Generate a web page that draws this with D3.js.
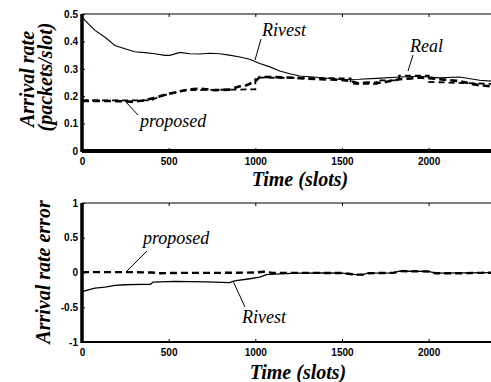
<!DOCTYPE html>
<html>
<head>
<script src="https://d3js.org/d3.v7.min.js"></script>
<style>
  body { margin: 0; background: #fff; }
</style>
</head>
<body>
<svg width="491" height="382"></svg>
<script>
// top panel: arrival rate estimates
var rivestT = [0, 20, 75, 133, 190, 248, 305, 363, 420, 478, 507, 565, 622, 680, 738, 795, 850, 911, 968, 1026, 1084, 1141, 1199, 1256, 1372, 1487, 1600, 1700, 1833, 1948, 2063, 2179, 2294, 2360];
var rivestV = [0.49, 0.475, 0.44, 0.415, 0.385, 0.373, 0.362, 0.359, 0.355, 0.349, 0.349, 0.36, 0.355, 0.354, 0.357, 0.355, 0.35, 0.343, 0.335, 0.319, 0.307, 0.292, 0.282, 0.274, 0.268, 0.261, 0.262, 0.265, 0.27, 0.273, 0.267, 0.27, 0.258, 0.255];

var propT = [0, 100, 200, 300, 363, 450, 507, 565, 622, 680, 766, 850, 911, 950, 1000, 1026, 1100, 1200, 1256, 1372, 1487, 1550, 1600, 1650, 1700, 1750, 1833, 1900, 1948, 2000, 2063, 2179, 2250, 2294, 2360];
var propV = [0.183, 0.183, 0.182, 0.18, 0.185, 0.2, 0.21, 0.218, 0.225, 0.228, 0.222, 0.224, 0.236, 0.24, 0.255, 0.27, 0.27, 0.268, 0.266, 0.262, 0.26, 0.255, 0.246, 0.25, 0.248, 0.252, 0.262, 0.265, 0.268, 0.266, 0.262, 0.255, 0.245, 0.24, 0.236];

var realT = [0, 400, 450, 600, 1000, 1000, 1550, 1550, 1700, 1700, 1830, 1830, 2000, 2000, 2360];
var realV = [0.185, 0.185, 0.2, 0.222, 0.225, 0.268, 0.265, 0.245, 0.245, 0.258, 0.258, 0.275, 0.275, 0.252, 0.245];

// bottom panel: estimation error
var rivErrT = [0, 20, 75, 133, 190, 248, 340, 395, 410, 535, 720, 850, 880, 968, 1026, 1065, 1141, 1250, 1400, 1500, 1580, 1620, 1650, 1800, 1830, 2000, 2040, 2360];
var rivErrV = [-0.28, -0.26, -0.224, -0.21, -0.186, -0.176, -0.171, -0.17, -0.138, -0.129, -0.135, -0.145, -0.12, -0.09, -0.067, -0.03, -0.019, -0.01, -0.005, -0.008, -0.03, -0.03, -0.01, -0.005, 0.02, 0.015, -0.01, -0.003];

var propErrT = [0, 300, 400, 450, 600, 800, 1000, 1050, 1100, 1300, 1500, 1580, 1620, 1650, 1800, 1830, 1900, 2000, 2040, 2200, 2300, 2360];
var propErrV = [0.005, 0.005, 0.0, -0.01, -0.005, -0.005, 0.0, 0.01, -0.005, -0.005, -0.008, -0.03, -0.03, -0.01, -0.005, 0.02, 0.018, 0.015, -0.01, -0.01, -0.005, -0.003];

var xTicks = [0, 500, 1000, 1500, 2000];
var yTicksTop = [0, 0.1, 0.2, 0.3, 0.4, 0.5];
var yTicksBot = [-1, -0.5, 0, 0.5, 1];

var serif = "'Liberation Serif', 'Times New Roman', Times, serif";
var sans = "'Liberation Sans', Arial, Helvetica, sans-serif";

var svg = d3.select("svg");

var x = d3.scaleLinear().domain([0, 2360]).range([82, 491]);
var yTop = d3.scaleLinear().domain([0, 0.5]).range([151, 14]);
var yBot = d3.scaleLinear().domain([-1, 1]).range([342, 203]);

function zip(t, v) { return t.map(function(d, i) { return [d, v[i]]; }); }

function panel(y, yTicks, bottomW) {
    var g = svg.append("g");
    g.append("line").attr("x1", x(0)).attr("x2", 495).attr("y1", y.range()[1]).attr("y2", y.range()[1])
     .attr("stroke", "#000").attr("stroke-width", 1);

    var xa = g.append("g").attr("transform", "translate(0," + y.range()[0] + ")")
        .call(d3.axisBottom(x).tickValues(xTicks).tickSize(-3).tickPadding(7).tickFormat(d3.format("d")));
    xa.select(".domain").remove();
    var xt = g.append("g").attr("transform", "translate(0," + y.range()[1] + ")")
        .call(d3.axisTop(x).tickValues(xTicks).tickSize(-3).tickFormat(""));
    xt.select(".domain").remove();

    var ya = g.append("g").attr("transform", "translate(" + x(0) + ",0)")
        .call(d3.axisLeft(y).tickValues(yTicks).tickSize(-3).tickPadding(4).tickFormat(function(d) { return String(d); }));
    ya.select(".domain").remove();

    g.selectAll(".tick text").style("font-family", sans).style("font-weight", "bold").style("font-size", "10px");

    g.append("line").attr("x1", x(0)).attr("x2", 495).attr("y1", y.range()[0]).attr("y2", y.range()[0])
     .attr("stroke", "#000").attr("stroke-width", bottomW);
    g.append("line").attr("x1", x(0)).attr("x2", x(0)).attr("y1", y.range()[1]).attr("y2", y.range()[0] + 1)
     .attr("stroke", "#000").attr("stroke-width", 3.5);
    return g;
}

var gTop = panel(yTop, yTicksTop, 4);
var gBot = panel(yBot, yTicksBot, 2);

var lineTop = d3.line().x(function(d) { return x(d[0]); }).y(function(d) { return yTop(d[1]); });
var lineBot = d3.line().x(function(d) { return x(d[0]); }).y(function(d) { return yBot(d[1]); });

gTop.append("path").attr("d", lineTop(zip(realT, realV)))
    .attr("fill", "none").attr("stroke", "#000").attr("stroke-width", 1.8).attr("stroke-dasharray", "6,4");
gTop.append("path").attr("d", lineTop(zip(propT, propV)))
    .attr("fill", "none").attr("stroke", "#000").attr("stroke-width", 2.6).attr("stroke-dasharray", "7,4");
gTop.append("path").attr("d", lineTop(zip(rivestT, rivestV)))
    .attr("fill", "none").attr("stroke", "#000").attr("stroke-width", 1.1);

gBot.append("path").attr("d", lineBot(zip(rivErrT, rivErrV)))
    .attr("fill", "none").attr("stroke", "#000").attr("stroke-width", 1.3);
gBot.append("path").attr("d", lineBot(zip(propErrT, propErrV)))
    .attr("fill", "none").attr("stroke", "#000").attr("stroke-width", 2.4).attr("stroke-dasharray", "7,4");

svg.selectAll(".tick line").attr("stroke-width", 1);

// axis titles
function title(txt, tr) {
    svg.append("text").attr("transform", tr).attr("text-anchor", "middle")
       .style("font-family", serif).style("font-weight", "bold").style("font-style", "italic").style("font-size", "20px")
       .text(txt);
}
title("Time (slots)", "translate(300,186)");
title("Time (slots)", "translate(298,379)");
title("Arrival rate", "translate(34,79) rotate(-90)");
title("(packets/slot)", "translate(52,77) rotate(-90)");
title("Arrival rate error", "translate(50,272) rotate(-90)");

// annotations
function note(txt, tx, ty, x1, y1, x2, y2) {
    svg.append("text").attr("x", tx).attr("y", ty)
       .style("font-family", serif).style("font-style", "italic").style("font-size", "18px")
       .text(txt);
    svg.append("line").attr("x1", x1).attr("y1", y1).attr("x2", x2).attr("y2", y2)
       .attr("stroke", "#000").attr("stroke-width", 1);
}
note("Rivest", 262, 36, 261, 39, 255, 60);
note("Real", 410, 52, 413, 55, 408, 71);
note("proposed", 140, 127, 125, 101, 138, 115);
note("proposed", 143, 244, 147, 251, 127, 271);
note("Rivest", 242, 323, 233, 281, 245, 307);
</script>
</body>
</html>
